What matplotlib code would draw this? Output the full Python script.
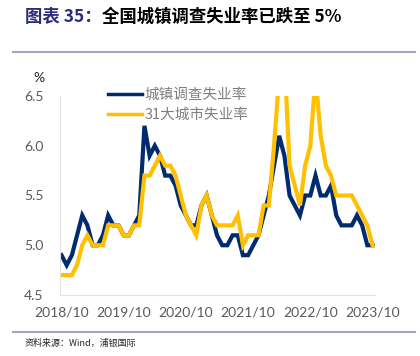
import matplotlib.pyplot as plt
from matplotlib.lines import Line2D

plt.rcParams['font.family'] = ['Noto Sans CJK SC', 'DejaVu Sans']

# monthly, 2018/10 .. 2023/10
urban_rate = [4.9, 4.8, 4.9,
              5.1, 5.3, 5.2, 5.0, 5.0, 5.1, 5.3, 5.2, 5.2, 5.1, 5.1, 5.2,
              5.3, 6.2, 5.9, 6.0, 5.9, 5.7, 5.7, 5.6, 5.4, 5.3, 5.2, 5.2,
              5.4, 5.5, 5.3, 5.1, 5.0, 5.0, 5.1, 5.1, 4.9, 4.9, 5.0, 5.1,
              5.3, 5.5, 5.8, 6.1, 5.9, 5.5, 5.4, 5.3, 5.5, 5.5, 5.7, 5.5,
              5.5, 5.6, 5.3, 5.2, 5.2, 5.2, 5.3, 5.2, 5.0, 5.0]
city31_rate = [4.7, 4.7, 4.7,
               4.8, 5.0, 5.1, 5.0, 5.0, 5.0, 5.2, 5.2, 5.2, 5.1, 5.1, 5.2,
               5.2, 5.7, 5.7, 5.8, 5.9, 5.8, 5.8, 5.7, 5.5, 5.3, 5.2, 5.1,
               5.4, 5.5, 5.3, 5.2, 5.2, 5.2, 5.2, 5.3, 5.0, 5.1, 5.1, 5.1,
               5.4, 5.4, 6.0, 6.7, 6.9, 5.8, 5.6, 5.4, 5.8, 6.0, 6.7, 6.1,
               5.8, 5.7, 5.5, 5.5, 5.5, 5.5, 5.4, 5.3, 5.2, 5.0]
tick_labels = ['2018/10', '2019/10', '2020/10', '2021/10', '2022/10', '2023/10']
y_ticks = [4.5, 5.0, 5.5, 6.0, 6.5]

months = list(range(len(urban_rate)))
navy = '#002B6E'
gold = '#FFC000'
grey = '#595959'

fig = plt.figure(figsize=(4.2, 3.56), dpi=100)
ax = fig.add_axes([60 / 420, 1 - 295 / 356, 315 / 420, 199 / 356])

ax.plot(months, urban_rate, color=navy, lw=3.0, solid_joinstyle='miter')
ax.plot(months, city31_rate, color=gold, lw=3.0, solid_joinstyle='miter')

ax.set_xlim(-0.29, 60.48)
ax.set_ylim(4.5, 6.5)
ax.set_xticks(range(0, 61, 12))
ax.set_xticklabels(tick_labels)
ax.set_yticks(y_ticks)
ax.set_yticklabels(['%.1f' % v for v in y_ticks])
ax.tick_params(length=0, labelsize=10, labelcolor=grey)
ax.tick_params(axis='x', pad=8)
ax.tick_params(axis='y', pad=12)
for lab in ax.get_xticklabels() + ax.get_yticklabels():
    lab.set_family(['Lato', 'DejaVu Sans'])
for side in ['top', 'right']:
    ax.spines[side].set_visible(False)
ax.spines['left'].set_color('#E3E3E3')
ax.spines['bottom'].set_color('#E3E3E3')

fig.text(39 / 420, 1 - 78 / 356, '%', ha='center', va='center', fontsize=10,
         color='#262626', family=['Lato', 'DejaVu Sans'])

handles = [Line2D([], [], color=navy, lw=2.5), Line2D([], [], color=gold, lw=2.5)]
fig.legend(handles, ['城镇调查失业率', '31大城市失业率'], loc='upper left',
           bbox_to_anchor=(108 / 420, 1 - 88 / 356), frameon=False, fontsize=10.5,
           labelcolor='#7F7F7F', handlelength=2.3, handletextpad=0.2, labelspacing=0.42,
           borderpad=0, borderaxespad=0)

# title in two colours
t1 = fig.text(25 / 420, 1 - 17 / 356, '图表 35：', fontsize=12.5, fontweight='bold',
              color='#2B2C7C', va='center', ha='left')
fig.canvas.draw()
bb = t1.get_window_extent(renderer=fig.canvas.get_renderer())
x_next = bb.x1 / fig.bbox.width
fig.text(x_next, 1 - 17 / 356, '全国城镇调查失业率已跌至 5%', fontsize=12.5,
         fontweight='bold', color='black', va='center', ha='left')

for yy in [52, 332]:
    fig.add_artist(Line2D([13 / 420, 415 / 420], [1 - yy / 356, 1 - yy / 356],
                          color='#A8A2C8', lw=1.5))

fig.text(25 / 420, 1 - 343 / 356, '资料来源：Wind，浦银国际', fontsize=6.5,
         color='#262626', va='center', ha='left')

fig.savefig('out.png', dpi=100)
